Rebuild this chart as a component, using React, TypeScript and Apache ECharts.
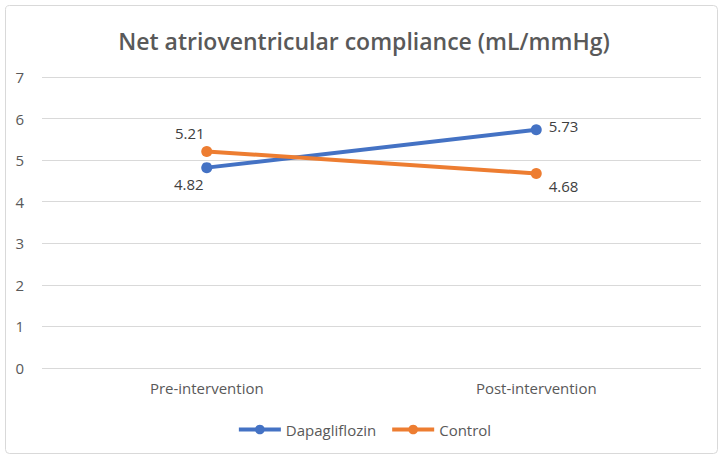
import React, { useEffect, useRef } from "react";
import * as echarts from "echarts";

const categories = ["Pre-intervention", "Post-intervention"];
const dapagliflozin = [4.82, 5.73];
const control = [5.21, 4.68];
const seriesNames = ["Dapagliflozin", "Control"];

const FONT = "'Open Sans', sans-serif";

export default function App() {
  const ref = useRef<HTMLDivElement>(null);
  useEffect(() => {
    if (!ref.current) return;
    const chart = echarts.init(ref.current, null, { renderer: "svg" });
    const labelStyle = { fontFamily: FONT, fontSize: 15, color: "#404040" };
    chart.setOption({
      animation: false,
      backgroundColor: "#ffffff",
      title: {
        text: "Net atrioventricular compliance (mL/mmHg)",
        left: "center",
        top: 24,
        textStyle: { fontFamily: FONT, fontSize: 23, fontWeight: 600, color: "#595959" },
      },
      graphic: [
        {
          type: "rect",
          shape: { x: 5.5, y: 5.5, width: 712, height: 448, r: 4 },
          style: { fill: "none", stroke: "#d9d9d9", lineWidth: 1 },
          silent: true,
        },
      ],
      grid: { left: 42, right: 27, top: 77, bottom: 94, containLabel: false },
      xAxis: {
        type: "category",
        data: categories,
        boundaryGap: true,
        axisLine: { show: false },
        axisTick: { show: false },
        axisLabel: { fontFamily: FONT, fontSize: 15, color: "#595959", margin: 12 },
      },
      yAxis: {
        type: "value",
        min: 0,
        max: 7,
        interval: 1,
        axisLine: { show: false },
        axisTick: { show: false },
        axisLabel: { fontFamily: FONT, fontSize: 15, color: "#595959", margin: 18 },
        splitLine: { lineStyle: { color: "#d9d9d9", width: 1 } },
      },
      legend: {
        bottom: 20,
        left: "center",
        itemWidth: 42,
        itemHeight: 12,
        itemGap: 14,
        lineStyle: { width: 4 },
        textStyle: { fontFamily: FONT, fontSize: 15, color: "#595959" },
        data: seriesNames,
      },
      series: [
        {
          name: seriesNames[0],
          type: "line",
          data: [
            { value: dapagliflozin[0], label: { position: "bottom", offset: [-18, -2] } },
            { value: dapagliflozin[1], label: { position: "right", offset: [2, -4] } },
          ],
          symbol: "circle",
          symbolSize: 11,
          color: "#4472C4",
          lineStyle: { width: 4, color: "#4472C4" },
          label: { show: true, ...labelStyle },
        },
        {
          name: seriesNames[1],
          type: "line",
          data: [
            { value: control[0], label: { position: "top", offset: [-17, 0] } },
            { value: control[1], label: { position: "right", offset: [2, 13] } },
          ],
          symbol: "circle",
          symbolSize: 11,
          color: "#ED7D31",
          lineStyle: { width: 4, color: "#ED7D31" },
          label: { show: true, ...labelStyle },
        },
      ],
    });
    return () => chart.dispose();
  }, []);
  return (
    <div
      ref={ref}
      style={{ position: "fixed", left: 0, top: 0, width: 728, height: 462 }}
    />
  );
}
